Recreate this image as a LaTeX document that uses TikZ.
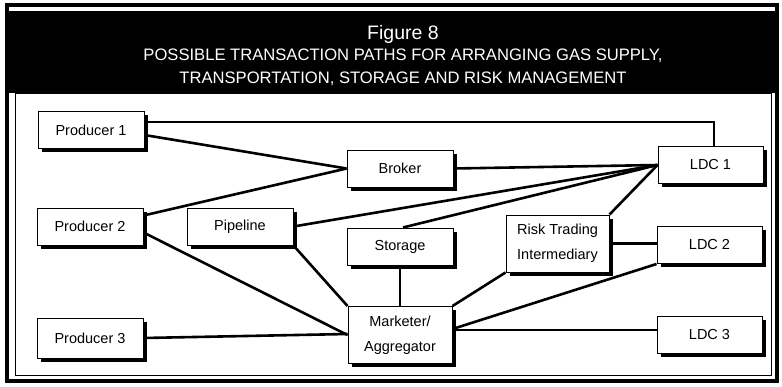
\documentclass[tikz,border=0pt]{standalone}
\usepackage{fontspec}
\setmainfont{Liberation Sans}
\usetikzlibrary{shadows}

\tikzset{
  box/.style={draw, line width=1pt, fill=white, inner sep=0pt,
    minimum width=106pt, minimum height=37pt, align=center,
    font=\fontsize{14.5}{25}\selectfont,
    drop shadow={shadow xshift=3.5pt, shadow yshift=-3.5pt, fill=black, opacity=1}},
  tallbox/.style={box, minimum height=57pt},
  link/.style={line width=2.6pt}
}

\begin{document}
\begin{tikzpicture}[x=1pt, y=-1pt]
\useasboundingbox (0,0) rectangle (782,386);
% frame and header
\fill[white] (0,0) rectangle (782,386);
\draw[line width=3.5pt] (7,5) rectangle (777,381);
\fill[black] (7,11) rectangle (777,93);
\draw[line width=1pt] (15,93) rectangle (771,375);
\node[text=white, font=\fontsize{19.5}{22}\selectfont] (fig) at (403,34) {Figure 8};
\node[text=white, align=center, font=\fontsize{16.6}{23}\selectfont] (caption) at (403,67)
  {POSSIBLE TRANSACTION PATHS FOR ARRANGING GAS SUPPLY,\\TRANSPORTATION, STORAGE AND RISK MANAGEMENT};

% parties
\node[box] (prod1) at (91,130) {Producer 1};
\node[box] (prod2) at (90,226.5) {Producer 2};
\node[box, minimum height=40pt] (prod3) at (90,338) {Producer 3};
\node[box] (pipeline) at (240,226.5) {Pipeline};
\node[box] (broker) at (400,168.5) {Broker};
\node[box] (storage) at (400,246.5) {Storage};
\node[tallbox, minimum width=103pt] (risk) at (557.5,243.5) {Risk Trading\\Intermediary};
\node[tallbox, minimum width=104pt] (marketer) at (400,335) {Marketer/\\Aggregator};
\node[box, minimum width=105pt] (ldc1) at (710.5,165) {LDC 1};
\node[box, minimum width=105pt] (ldc2) at (709.5,245) {LDC 2};
\node[box, minimum width=105pt] (ldc3) at (709.5,334.5) {LDC 3};

% transaction paths
\draw[link, line width=2pt] ([yshift=8pt]prod1.east) -| ([xshift=3.5pt]ldc1.north);
\draw[link] ([yshift=-5pt]prod1.east) -- (broker.west);
\draw[link] ([yshift=11pt]prod2.east) -- (broker.west);
\draw[link] (broker.east) -- (ldc1.west);
\draw[link] (pipeline.east) -- (ldc1.west);
\draw[link] ([xshift=3pt]storage.north) -- (ldc1.west);
\draw[link] (risk.north east) -- (ldc1.west);
\draw[link] ([yshift=-6pt]prod2.east) -- (marketer.west);
\draw[link] (prod3.east) -- ([yshift=1pt]marketer.west);
\draw[link] (pipeline.south east) -- (marketer.north west);
\draw[link] (storage.south) -- (marketer.north);
\draw[link] (risk.south west) -- (marketer.north east);
\draw[link] (risk.east) -- (risk.east -| ldc2.west);
\draw[link] ([yshift=6pt]marketer.east) -- (ldc2.south west);
\draw[link] ([yshift=5pt]marketer.east) -- ([yshift=5pt]marketer.east -| ldc3.west);
\end{tikzpicture}
\end{document}
